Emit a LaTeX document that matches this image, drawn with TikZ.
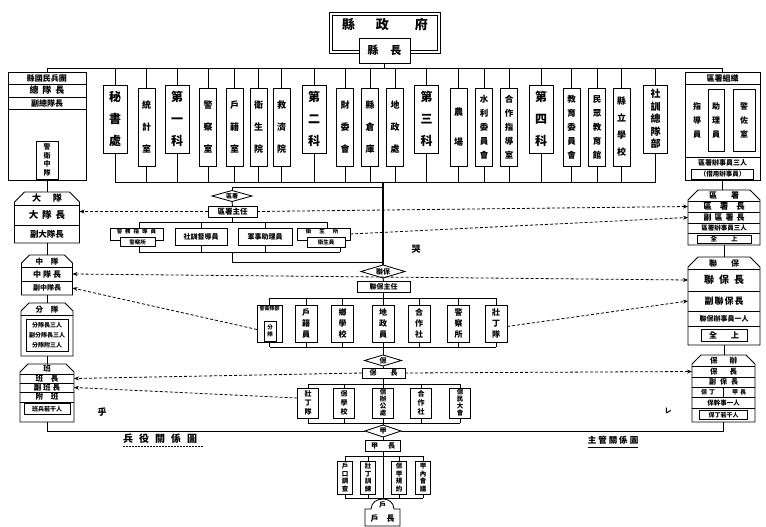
\documentclass[tikz,border=0pt]{standalone}
\usepackage{fontspec}
\setmainfont{Noto Sans CJK TC}
\usetikzlibrary{arrows.meta}
\newcommand\myfs[2]{\fontsize{#1}{#2}\selectfont\bfseries}
\newcommand\myrow[2]{\draw (#1.west |- 0,#2) -- (#1.east |- 0,#2);}
\newcommand\chambox[2]{\draw[fill=white] (#1.south west) -- ([yshift=-#2]#1.north west) -- ([xshift=#2]#1.north west) -- ([xshift=-#2]#1.north east) -- ([yshift=-#2]#1.north east) -- (#1.south east) -- cycle;}
\newcommand\diam[1]{\draw[fill=white] (#1.north) -- (#1.east) -- (#1.south) -- (#1.west) -- cycle;}
\begin{document}
\begin{tikzpicture}[x=1pt,y=-1pt,line width=0.85pt,
  every node/.style={inner sep=0pt,outer sep=0pt},
  frame/.style={draw,fill=white},
  kbox/.style={frame,minimum width=24pt,minimum height=68pt,align=center,font=\myfs{12}{22}},
  nbox/.style={frame,minimum width=17pt,minimum height=78pt,align=center,font=\myfs{9}{22}},
  cbox/.style={frame,align=center},
  dsh/.style={dash pattern=on 3pt off 2pt,line width=0.8pt},
  mainline/.style={line width=1.3pt},
  >={Stealth[length=5pt,width=4pt]}]
\useasboundingbox (0,0) rectangle (766,527);

% ---- county government
\node[draw,minimum width=111pt,minimum height=41pt] (xzf) at (384.5,32.5) {};
\draw ([shift={(3pt,-3pt)}]xzf.north west) rectangle ([shift={(-3pt,3pt)}]xzf.south east);
\node[font=\myfs{13}{13}] (xzft) at (385,25) {縣\hspace{21pt}政\hspace{26pt}府};
\node[frame,minimum width=51pt,minimum height=25pt,font=\myfs{11}{11}] (xz) at (384.5,50.5) {縣\hspace{12pt}長};

\coordinate (busL) at (47,68);
\coordinate (busR) at (722.5,68);
\draw (busL) -- (busR);
\draw (xz.south) -- (xz.south |- busL);

\coordinate (ubL) at (115,182);
\coordinate (ubR) at (655.5,182);
\draw (ubL) -- (ubR);

% ---- top row
\node[kbox] (t1) at (115,119) {秘\\書\\處};
\node[nbox] (t2) at (146.5,127) {統\\計\\室};
\node[kbox] (t3) at (177,119) {第\\一\\科};
\node[nbox] (t4) at (208,127) {警\\察\\室};
\node[nbox] (t5) at (234.5,127) {戶\\籍\\室};
\node[nbox] (t6) at (258.5,127) {衛\\生\\院};
\node[nbox] (t7) at (281.5,127) {救\\濟\\院};
\node[kbox] (t8) at (314,119) {第\\二\\科};
\node[nbox] (t9) at (345,127) {財\\委\\會};
\node[nbox] (t10) at (370,127) {縣\\倉\\庫};
\node[nbox] (t11) at (395,127) {地\\政\\處};
\node[kbox] (t12) at (426.5,119) {第\\三\\科};
\node[nbox,font=\myfs{9}{30}] (t13) at (458.5,127) {農\\場};
\node[nbox,font=\myfs{8.5}{14}] (t14) at (484,127) {水\\利\\委\\員\\會};
\node[nbox,font=\myfs{8.5}{14}] (t15) at (509,127) {合\\作\\指\\導\\室};
\node[kbox] (t16) at (541,119) {第\\四\\科};
\node[nbox,font=\myfs{8.5}{14}] (t17) at (571.5,127) {教\\育\\委\\員\\會};
\node[nbox,font=\myfs{8.5}{14}] (t18) at (597,127) {民\\眾\\教\\育\\館};
\node[nbox,font=\myfs{9}{17}] (t19) at (621.5,127) {縣\\立\\學\\校};
\node[kbox,font=\myfs{10}{12.5}] (t20) at (655.5,119) {社\\訓\\總\\隊\\部};
\foreach \i in {1,...,20} {
  \draw (t\i.north) -- (t\i.north |- busL);
  \draw (t\i.south) -- (t\i.south |- ubL);
}

% ---- left top box
\node[frame,minimum width=78pt,minimum height=108pt] (ltop) at (47,126) {};
\draw (ltop.north) -- (ltop.north |- busL);
\node[font=\myfs{8}{8}] (lt1) at (47,78) {縣國民兵團};
\myrow{ltop}{84}
\node[font=\myfs{9}{9}] (lt2) at (47,90.5) {總\hspace{4pt}隊\hspace{4pt}長};
\myrow{ltop}{97}
\node[font=\myfs{8}{8}] (lt3) at (47,103) {副總隊長};
\myrow{ltop}{109}
\node[cbox,minimum width=22pt,minimum height=38pt,font=\myfs{7}{8.5}] (lt4) at (47,160) {警\\衛\\中\\隊};

% ---- left column
\node[minimum width=65pt,minimum height=51pt] (dadui) at (47,217.5) {};
\chambox{dadui}{10pt}
\node[font=\myfs{9}{9}] (dd0) at (47,198) {大\hspace{12pt}隊};
\myrow{dadui}{205}
\node[font=\myfs{9.5}{9.5}] (dd1) at (47,215) {大\hspace{4pt}隊\hspace{4pt}長};
\myrow{dadui}{225}
\node[font=\myfs{8.5}{8.5}] (dd2) at (47,234) {副大隊長};
\draw (ltop.south) -- (dadui.north);

\node[minimum width=51pt,minimum height=40pt] (zhongdui) at (47,275) {};
\chambox{zhongdui}{8pt}
\node[font=\myfs{7.5}{7.5}] (zd0) at (47,261.5) {中\hspace{8pt}隊};
\myrow{zhongdui}{267}
\node[font=\myfs{8}{8}] (zd1) at (47,274) {中\hspace{2pt}隊\hspace{2pt}長};
\myrow{zhongdui}{281}
\node[font=\myfs{7}{7}] (zd2) at (47,288) {副中隊長};
\draw (dadui.south) -- (zhongdui.north);

\node[minimum width=52pt,minimum height=53pt] (fendui) at (47,329.5) {};
\chambox{fendui}{8pt}
\node[font=\myfs{7.5}{7.5}] (fd0) at (47,309.5) {分\hspace{8pt}隊};
\myrow{fendui}{315}
\node[cbox,minimum width=42pt,minimum height=32pt] (fdi) at (47,335) {};
\node[font=\myfs{6}{6}] (fd1) at (47,325) {分隊長三人};
\node[font=\myfs{6}{6}] (fd2) at (47,335) {副分隊長三人};
\node[font=\myfs{6}{6}] (fd3) at (47,345) {分隊附三人};
\draw (zhongdui.south) -- (fendui.north);

\node[minimum width=54pt,minimum height=58pt] (ban) at (47,393) {};
\chambox{ban}{8pt}
\node[font=\myfs{7.5}{7.5}] (bn0) at (47,369) {班};
\myrow{ban}{374}
\node[font=\myfs{7.5}{7.5}] (bn1) at (47,378.5) {班\hspace{8pt}長};
\myrow{ban}{383}
\node[font=\myfs{7.5}{7.5}] (bn2) at (47,387.5) {副\hspace{2pt}班\hspace{2pt}長};
\myrow{ban}{392}
\node[font=\myfs{7.5}{7.5}] (bn3) at (47,397) {附\hspace{8pt}班};
\myrow{ban}{402}
\node[cbox,minimum width=46pt,minimum height=11pt,font=\myfs{6}{6}] (bn4) at (47,409) {班兵若干人};
\draw (fendui.south) -- (ban.north);

% ---- right top box
\node[frame,minimum width=75pt,minimum height=108pt] (rtop) at (722.5,126) {};
\draw (rtop.north) -- (rtop.north |- busR);
\node[font=\myfs{8}{8}] (rt0) at (722.5,78) {區署組織};
\myrow{rtop}{84}
\node[font=\myfs{8}{14},align=center] (rt1) at (697,120) {指\\導\\員};
\node[cbox,minimum width=16pt,minimum height=62pt,font=\myfs{8}{14}] (rt2) at (716,120) {助\\理\\員};
\node[cbox,minimum width=22pt,minimum height=62pt,font=\myfs{8}{14}] (rt3) at (744,120) {警\\佐\\室};
\myrow{rtop}{157}
\node[font=\myfs{7}{7}] (rt4) at (722.5,162.5) {區署辦事員三人};
\node[cbox,minimum width=62pt,minimum height=10pt,font=\myfs{6.5}{6.5}] (rt5) at (722.5,174) {（借用辦事員）};

% ---- right column
\node[minimum width=72pt,minimum height=55pt] (qushu) at (724,217.5) {};
\chambox{qushu}{10pt}
\node[font=\myfs{8}{8}] (qs0) at (724,196) {區\hspace{14pt}署};
\myrow{qushu}{201}
\node[font=\myfs{8.5}{8.5}] (qs1) at (724,206.5) {區\hspace{8pt}署\hspace{8pt}長};
\myrow{qushu}{212}
\node[font=\myfs{8}{8}] (qs2) at (724,217.5) {副\hspace{3pt}區\hspace{3pt}署\hspace{3pt}長};
\myrow{qushu}{223}
\node[font=\myfs{6.5}{6.5}] (qs3) at (724,228) {區署辦事員三人};
\myrow{qushu}{233}
\node[cbox,minimum width=54pt,minimum height=8pt,font=\myfs{6.5}{6.5}] (qs4) at (724,239) {全\hspace{14pt}上};
\draw (rtop.south) -- (rtop.south |- qushu.north);

\node[minimum width=72pt,minimum height=88pt] (lianbao) at (724,301) {};
\chambox{lianbao}{10pt}
\node[font=\myfs{8}{8}] (lb0) at (724,263) {聯\hspace{14pt}保};
\myrow{lianbao}{269}
\node[font=\myfs{10}{10}] (lb1) at (724,280) {聯\hspace{5pt}保\hspace{5pt}長};
\myrow{lianbao}{291}
\node[font=\myfs{9}{9}] (lb2) at (724,301) {副\hspace{1pt}聯\hspace{1pt}保\hspace{1pt}長};
\myrow{lianbao}{311}
\node[font=\myfs{7}{7}] (lb3) at (724,318.5) {聯保辦事員一人};
\myrow{lianbao}{326}
\node[cbox,minimum width=46pt,minimum height=12pt,font=\myfs{8}{8}] (lb4) at (724,335.5) {全\hspace{14pt}上};
\draw (qushu.south) -- (lianbao.north);

\node[minimum width=63pt,minimum height=67pt] (baob) at (723.5,388.5) {};
\chambox{baob}{9pt}
\node[font=\myfs{7.5}{7.5}] (bb0) at (723.5,361) {保\hspace{12pt}辦};
\myrow{baob}{366}
\node[font=\myfs{7.5}{7.5}] (bb1) at (723.5,371.5) {保\hspace{12pt}長};
\myrow{baob}{377}
\node[font=\myfs{7}{7}] (bb2) at (723.5,382) {副\hspace{4pt}保\hspace{4pt}長};
\myrow{baob}{387}
\node[font=\myfs{6}{6}] (bb3a) at (708,392) {保\hspace{2pt}丁};
\node[font=\myfs{6}{6}] (bb3b) at (739,392) {甲\hspace{2pt}長};
\draw (baob.north |- 0,387) -- (baob.north |- 0,397);
\myrow{baob}{397}
\node[font=\myfs{6.5}{6.5}] (bb4) at (723.5,402.5) {保幹事一人};
\myrow{baob}{408}
\node[cbox,minimum width=48pt,minimum height=9pt,font=\myfs{6}{6}] (bb5) at (723.5,415) {保丁若干人};
\draw (lianbao.south) -- (lianbao.south |- baob.north);

% ---- district bypass
\coordinate (mT) at (383,182);
\coordinate (mA) at (383,187);
\coordinate (mB) at (383,262);
\node[minimum width=40pt,minimum height=11pt] (qdm) at (232,196) {};
\diam{qdm}
\node[font=\myfs{6}{6}] (qdmt) at (232,196) {區署};
\draw (qdm.north) |- (mA);
\node[cbox,minimum width=49pt,minimum height=11pt,font=\myfs{7.5}{7.5}] (qz) at (232.5,211.5) {區署主任};
\draw (qdm.south) -- (qz.north);
\coordinate (qtl) at (139,222);
\coordinate (qtr) at (327,222);
\draw (qtl) -- (qtr);
\draw (qz.south) -- (qz.south |- qtl);
\node[cbox,minimum width=53pt,minimum height=12pt] (qa) at (136.5,234) {};
\node[font=\myfs{5.5}{5.5}] (qat) at (136.5,231.5) {警\hspace{3pt}務\hspace{3pt}指\hspace{3pt}導\hspace{3pt}員};
\node[cbox,minimum width=35pt,minimum height=9pt,font=\myfs{5.5}{5.5}] (qa2) at (137.5,242) {警察所};
\node[cbox,minimum width=52pt,minimum height=17pt,font=\myfs{7}{7}] (qb) at (201,236.5) {社訓督導員};
\node[cbox,minimum width=54pt,minimum height=17pt,font=\myfs{7}{7}] (qc) at (265,236.5) {軍事助理員};
\node[cbox,minimum width=53pt,minimum height=12pt] (qe) at (323.5,234) {};
\node[font=\myfs{5.5}{5.5}] (qet) at (322,231.5) {衛\hspace{8pt}生\hspace{8pt}所};
\node[cbox,minimum width=38pt,minimum height=10pt,font=\myfs{5.5}{5.5}] (qe2) at (326,242.5) {衛生員};
\draw (qtl) -- (qtl |- qa.north);
\draw (qb.north) -- (qb.north |- qtl);
\draw (qc.north) -- (qc.north |- qtl);
\draw (qtr) -- (qtr |- qe.north);
\coordinate (qbl) at (139,252);
\coordinate (qbr) at (340,252);
\draw (qbl) -- (qbr);
\draw (qa2.south -| qbl) -- (qbl);
\draw (qb.south) -- (qb.south |- qbl);
\draw (qc.south) -- (qc.south |- qbl);
\draw (qe2.south -| qbr) -- (qbr);
\coordinate (qj) at (232,252);
\draw (qj) |- (mB);

% ---- lianbao level
\node[minimum width=44pt,minimum height=13pt] (ld) at (383,271.5) {};
\draw[mainline] (mT) -- (ld.north);
\diam{ld}
\node[font=\myfs{7}{7}] (ldt) at (383,271.5) {聯保};
\node[cbox,minimum width=53pt,minimum height=11pt,font=\myfs{7}{7}] (lz) at (383.5,286.5) {聯保主任};
\draw (ld.south) -- (lz.north);
\coordinate (lgtl) at (269.5,298);
\coordinate (lgtr) at (496,298);
\draw (lgtl) -- (lgtr);
\draw (lz.south) -- (lz.south |- lgtl);
\node[cbox,minimum width=25pt,minimum height=37pt] (l1) at (269.5,323.5) {};
\node[font=\myfs{5}{5}] (l1t) at (269.5,309) {警衛隊部};
\node[cbox,minimum width=12pt,minimum height=20pt,font=\myfs{5.5}{7}] (l1i) at (270,331) {分\\隊};
\node[cbox,minimum width=22pt,minimum height=37pt,font=\myfs{8}{11}] (l2) at (306,323.5) {戶\\籍\\員};
\node[cbox,minimum width=22pt,minimum height=37pt,font=\myfs{8}{11}] (l3) at (342.5,323.5) {鄉\\學\\校};
\node[cbox,minimum width=22pt,minimum height=37pt,font=\myfs{8}{11}] (l4) at (383,323.5) {地\\政\\員};
\node[cbox,minimum width=22pt,minimum height=37pt,font=\myfs{8}{11}] (l5) at (419,323.5) {合\\作\\社};
\node[cbox,minimum width=22pt,minimum height=37pt,font=\myfs{8}{11}] (l6) at (458.5,323.5) {警\\察\\所};
\node[cbox,minimum width=22pt,minimum height=37pt,font=\myfs{8}{11}] (l7) at (496,323.5) {壯\\丁\\隊};
\coordinate (lgbl) at (269.5,347);
\coordinate (lgbr) at (496,347);
\draw (lgbl) -- (lgbr);
\foreach \i in {1,...,7} {
  \draw (l\i.north) -- (l\i.north |- lgtl);
  \draw (l\i.south) -- (l\i.south |- lgbl);
}

% ---- bao level
\node[minimum width=37pt,minimum height=11pt] (bd) at (383,360.5) {};
\diam{bd}
\node[font=\myfs{7}{7}] (bdt) at (383,360.5) {保};
\draw (l4.south |- lgbl) -- (bd.north);
\node[cbox,minimum width=43pt,minimum height=10pt,font=\myfs{7}{7}] (bz) at (383.5,373) {保\hspace{14pt}長};
\draw (bd.south) -- (bz.north);
\coordinate (bgtl) at (308,384);
\coordinate (bgtr) at (460,384);
\draw (bgtl) -- (bgtr);
\draw (bz.south) -- (bz.south |- bgtl);
\node[cbox,minimum width=21pt,minimum height=30pt,font=\myfs{7}{9}] (b1) at (308,403) {壯\\丁\\隊};
\node[cbox,minimum width=21pt,minimum height=30pt,font=\myfs{7}{9}] (b2) at (344,403) {保\\學\\校};
\node[cbox,minimum width=21pt,minimum height=30pt,font=\myfs{6.5}{7}] (b3) at (383,403) {保\\辦\\公\\處};
\node[cbox,minimum width=21pt,minimum height=30pt,font=\myfs{7}{9}] (b4) at (421,403) {合\\作\\社};
\node[cbox,minimum width=21pt,minimum height=30pt,font=\myfs{6.5}{7}] (b5) at (460,403) {保\\民\\大\\會};
\coordinate (bgbl) at (308,423);
\coordinate (bgbr) at (460,423);
\draw (bgbl) -- (bgbr);
\foreach \i in {1,...,5} {
  \draw (b\i.north) -- (b\i.north |- bgtl);
  \draw (b\i.south) -- (b\i.south |- bgbl);
}

% ---- jia level
\node[minimum width=36pt,minimum height=12pt] (jd) at (383,431) {};
\draw (ban.south) |- (jd.west);
\draw (baob.south) |- (jd.east);
\diam{jd}
\node[font=\myfs{7}{7}] (jdt) at (383,431) {甲};
\draw (b3.south |- bgbl) -- (jd.north);
\node[cbox,minimum width=35pt,minimum height=11pt,font=\myfs{7}{7}] (jz) at (383,445.5) {甲\hspace{10pt}長};
\draw (jd.south) -- (jz.north);
\coordinate (jgtl) at (345,456);
\coordinate (jgtr) at (423,456);
\draw (jgtl) -- (jgtr);
\draw (jz.south) -- (jz.south |- jgtl);
\node[cbox,minimum width=15pt,minimum height=33pt,font=\myfs{6.5}{7.5}] (j1) at (345,477.5) {戶\\口\\調\\查};
\node[cbox,minimum width=15pt,minimum height=33pt,font=\myfs{6.5}{7.5}] (j2) at (368,477.5) {壯\\丁\\訓\\練};
\node[cbox,minimum width=15pt,minimum height=33pt,font=\myfs{6.5}{7.5}] (j3) at (399,477.5) {保\\甲\\規\\約};
\node[cbox,minimum width=15pt,minimum height=33pt,font=\myfs{6.5}{7.5}] (j4) at (423,477.5) {甲\\內\\會\\議};
\coordinate (jgbl) at (345,498);
\coordinate (jgbr) at (423,498);
\draw (jgbl) -- (jgbr);
\foreach \i in {1,...,4} {
  \draw (j\i.north) -- (j\i.north |- jgtl);
  \draw (j\i.south) -- (j\i.south |- jgbl);
}
\draw (jz.south |- jgtl) -- (jz.south |- jgbl);

% ---- household
\coordinate (hupk) at (383,499);
\node[minimum width=35pt,minimum height=17pt] (hu) at (382.5,517.5) {};
\draw[fill=white] (hu.south west) -- (hu.north west) -- (371,509) .. controls (371.5,502) and (377,499) .. (hupk) .. controls (388.5,499) and (393.5,502) .. (394,509) -- (hu.north east) -- (hu.south east) -- cycle;
\node[font=\myfs{7}{7}] (hut) at (382.5,504.5) {戶};
\node[font=\myfs{8}{8}] (hut2) at (382.5,518) {戶\hspace{8pt}長};
\draw (jz.south |- jgbl) -- (hupk);

% ---- dashed relations
\draw[dsh,->] (qz.west) -- (qz.west -| dadui.east);
\draw[dsh,->] (qz.east) -- (qushu.west |- qs1);
\draw[dsh,->] (qe.east) -- (qushu.west |- qs2);
\draw[dsh,<->] (zhongdui.east |- zd1) -- (lianbao.west |- lb1);
\draw[dsh,->] ([yshift=-6pt]l1.west) -- (zhongdui.east |- zd2);
\draw[dsh,->] ([yshift=-3pt]l7.east) -- (lianbao.west |- lb2);
\draw[dsh,->] (bz.west) -- (ban.east |- bn1);
\draw[dsh,->] (bz.east) -- (baob.west |- bb1);
\draw[dsh,->] ([yshift=5pt]b1.west) -- (ban.east |- bn2);

% ---- legend and marks
\node[font=\myfs{10}{10}] (lg1) at (160,439) {兵\hspace{6pt}役\hspace{6pt}關\hspace{6pt}係\hspace{6pt}圖};
\draw[dash pattern=on 1.5pt off 1.5pt] ([yshift=-3pt]lg1.south west) -- ([yshift=-3pt,xshift=6pt]lg1.south east);
\node[font=\myfs{8.5}{8.5}] (lg2) at (613,440) {主\hspace{2pt}管\hspace{2pt}關\hspace{2pt}係\hspace{2pt}圖};
\draw ([yshift=-3pt]lg2.south west) -- ([yshift=-3pt]lg2.south east);
\node[font=\myfs{9}{9}] (mk1) at (416,249) {哭};
\node[font=\myfs{9}{9}] (mk2) at (102,412) {乎};
\node[font=\myfs{7}{7}] (mk3) at (668,411) {レ};
\end{tikzpicture}
\end{document}
